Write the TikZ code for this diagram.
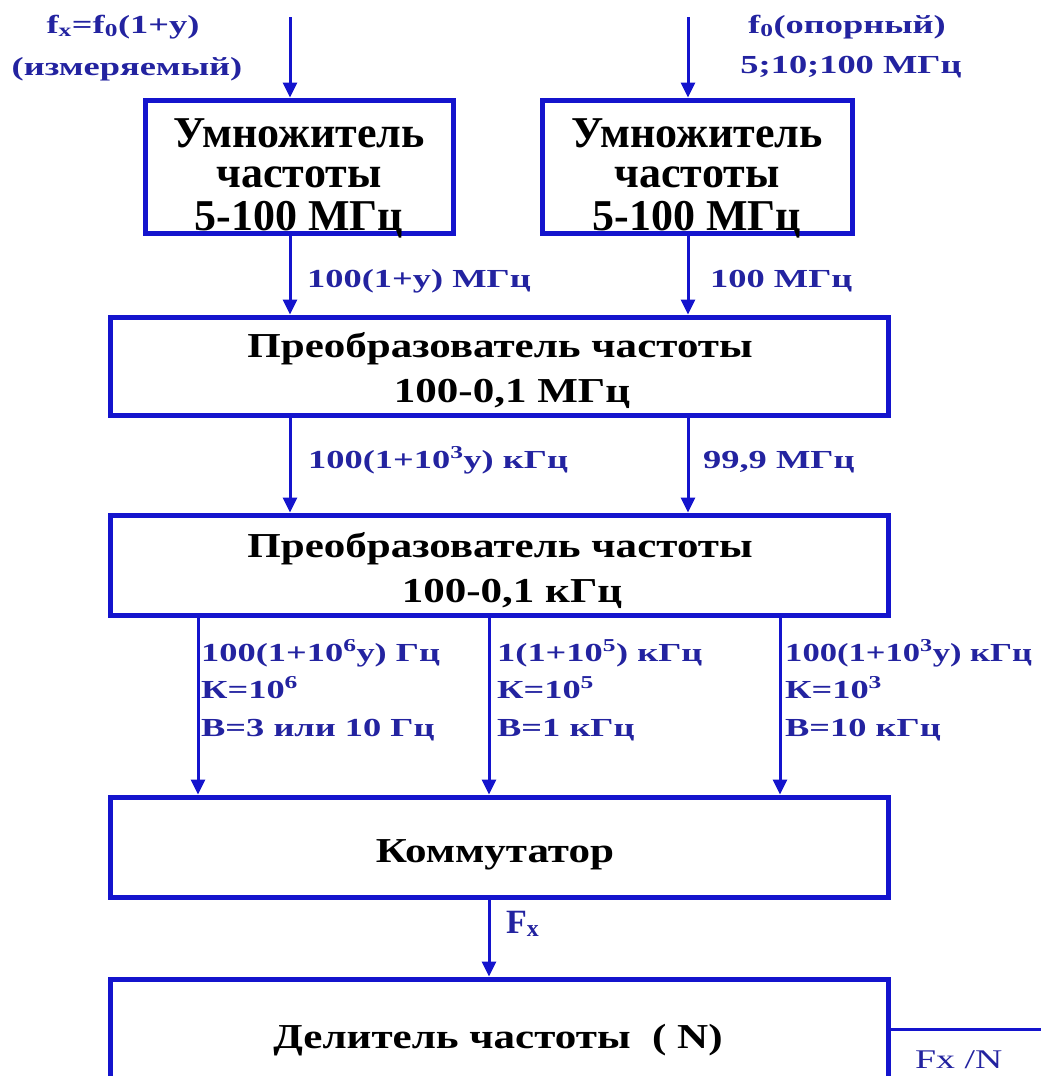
\documentclass[tikz,border=0pt]{standalone}
\usepackage{fontspec}
\setmainfont{Liberation Serif}
\newfontfamily\fA{Liberation Serif}
\newfontfamily\fB{Liberation Serif}[FakeStretch=1.23]
\newfontfamily\fL{Liberation Serif}[FakeStretch=1.4]
\newfontfamily\fLn{Liberation Serif}[FakeStretch=1.33]
\usetikzlibrary{arrows.meta}
\definecolor{bblue}{RGB}{20,20,205}
\definecolor{tblue}{RGB}{35,35,160}
\tikzset{
  blk/.style={draw=bblue, line width=5pt, fill=white},
  arr/.style={draw=bblue, line width=3pt, -{Triangle[length=15pt,width=14pt]}},
  wire/.style={draw=bblue, line width=3pt},
  btA/.style={anchor=base, inner sep=0pt, font=\fA\bfseries\fontsize{44}{44}\selectfont},
  btB/.style={anchor=base, inner sep=0pt, font=\fB\bfseries\fontsize{35}{35}\selectfont},
  lbl/.style={anchor=base west, inner sep=0pt, text=tblue, font=\fL\bfseries\fontsize{26}{26}\selectfont},
  lbln/.style={lbl, font=\fLn\bfseries\fontsize{26}{26}\selectfont},
  lblc/.style={lbl, anchor=base},
}
\begin{document}
\begin{tikzpicture}[x=1pt, y=-1pt]
\useasboundingbox (0,0) rectangle (1041,1076);
\clip (0,0) rectangle (1041,1076);
% boxes
\node[blk, minimum width=308pt, minimum height=133pt] (m1) at (299,166.5) {};
\node[blk, minimum width=310pt, minimum height=133pt] (m2) at (697,166.5) {};
\node[blk, minimum width=778pt, minimum height=98pt] (c1) at (499,366) {};
\node[blk, minimum width=778pt, minimum height=100pt] (c2) at (499,565) {};
\node[blk, minimum width=778pt, minimum height=100pt] (sw) at (499,847) {};
\node[blk, minimum width=778pt, minimum height=111pt] (dv) at (499,1034.5) {};
% box texts
\node[btA] (m1a) at (299,147) {Умножитель};
\node[btA] (m1b) at (299,187) {частоты};
\node[btA] (m1c) at (299,230) {5-100 МГц};
\node[btA] (m2a) at (697,147) {Умножитель};
\node[btA] (m2b) at (697,187) {частоты};
\node[btA] (m2c) at (697,230) {5-100 МГц};
\node[btB] (c1a) at (500,357) {Преобразователь частоты};
\node[btB] (c1b) at (512,402) {100-0,1 МГц};
\node[btB] (c2a) at (500,557) {Преобразователь частоты};
\node[btB] (c2b) at (512,602) {100-0,1 кГц};
\node[btB] (swa) at (495,862) {Коммутатор};
\node[btB] (dva) at (498,1048) {Делитель частоты~~(~N)};
% input coordinates
\coordinate (in1) at (290,17);
\coordinate (in2) at (688,17);
\coordinate (xa) at (198,0);
\coordinate (xb) at (489,0);
\coordinate (xc) at (780,0);
\coordinate (out) at (1041,1029);
% connectors
\draw[arr] (in1) -- (in1 |- m1.north);
\draw[arr] (in2) -- (in2 |- m2.north);
\draw[arr] (m1.south -| in1) -- (c1.north -| in1);
\draw[arr] (m2.south -| in2) -- (c1.north -| in2);
\draw[arr] (c1.south -| in1) -- (c2.north -| in1);
\draw[arr] (c1.south -| in2) -- (c2.north -| in2);
\draw[arr] (c2.south -| xa) -- (sw.north -| xa);
\draw[arr] (c2.south -| xb) -- (sw.north -| xb);
\draw[arr] (c2.south -| xc) -- (sw.north -| xc);
\draw[arr] (sw.south -| xb) -- (dv.north -| xb);
\draw[wire] (dv.east |- out) -- (out);
% labels
\node[lblc] (t1a) at (123,33) {f\textsubscript{x}=f\textsubscript{0}(1+y)};
\node[lblc] (t1b) at (127,75) {(измеряемый)};
\node[lblc] (t2a) at (847,33) {f\textsubscript{0}(опорный)};
\node[lblc] (t2b) at (851,73) {5;10;100 МГц};
\node[lbl] (l1) at (307,287) {100(1+y) МГц};
\node[lbl] (l2) at (710,287) {100 МГц};
\node[lbl] (l3) at (308,468) {100(1+10\textsuperscript{3}y) кГц};
\node[lbl] (l4) at (703,468) {99,9 МГц};
\node[lbl] (a1) at (201,661) {100(1+10\textsuperscript{6}y) Гц};
\node[lbl] (a2) at (201,698) {К=10\textsuperscript{6}};
\node[lbl] (a3) at (201,736) {В=3 или 10 Гц};
\node[lbl] (b1) at (497,661) {1(1+10\textsuperscript{5}) кГц};
\node[lbl] (b2) at (497,698) {К=10\textsuperscript{5}};
\node[lbl] (b3) at (497,736) {В=1 кГц};
\node[lbln] (c1l) at (785,661) {100(1+10\textsuperscript{3}y) кГц};
\node[lbl] (c2l) at (785,698) {К=10\textsuperscript{3}};
\node[lbl] (c3l) at (785,736) {В=10 кГц};
\node[lbl, font=\fA\bfseries\fontsize{34}{34}\selectfont] (fx) at (506,933) {F\textsubscript{x}};
\node[lbl, font=\fL\fontsize{27}{27}\selectfont] (fxn) at (915,1068) {Fx /N};
\end{tikzpicture}
\end{document}
